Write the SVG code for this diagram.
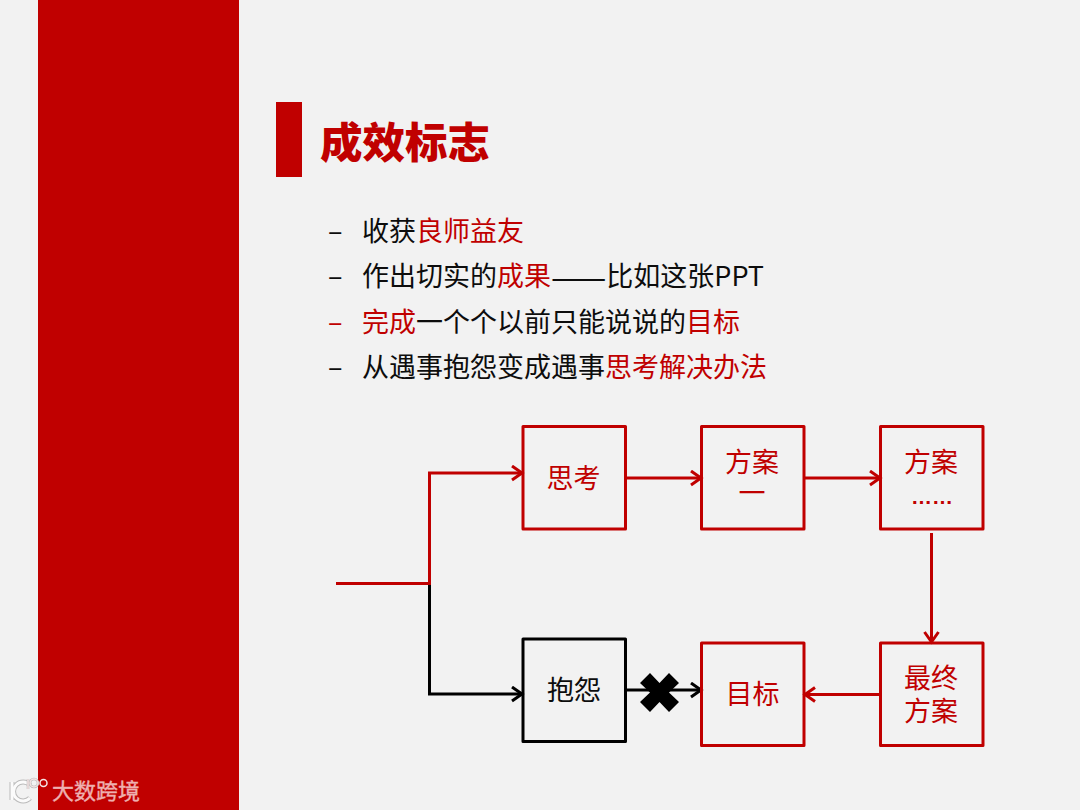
<svg xmlns="http://www.w3.org/2000/svg" width="1080" height="810" viewBox="0 0 1080 810">
<style>
text{font-family:"Noto Sans CJK SC","Liberation Sans",sans-serif}
.b{font-size:27px;fill:#0d0d0d}
.r{fill:#c00000}
.box{fill:none;stroke-width:3;stroke-linejoin:round}
.cr{stroke:#c00000}.ck{stroke:#000}
.l{fill:none;stroke-width:3}
.n{font-size:27px;text-anchor:middle}
</style>
<defs>
<marker id="ar" markerUnits="userSpaceOnUse" markerWidth="16" markerHeight="18" refX="13" refY="8" orient="auto"><path d="M3 1L13 8L3 15" fill="none" stroke="#c00000" stroke-width="3"/></marker>
<marker id="ak" markerUnits="userSpaceOnUse" markerWidth="16" markerHeight="18" refX="13" refY="8" orient="auto"><path d="M3 1L13 8L3 15" fill="none" stroke="#000" stroke-width="3"/></marker>
</defs>
<rect width="1080" height="810" fill="#f2f2f2"/>
<rect x="38" y="0" width="201" height="810" fill="#c00000"/>
<rect x="276" y="102" width="26" height="75" fill="#c00000"/>
<text x="320" y="158" font-size="42.500" font-weight="900" fill="#c00000">成效标志</text>
<g id="bullets">
<text x="328" y="241" class="b">–</text>
<text x="362" y="241" class="b">收获<tspan class="r">良师益友</tspan></text>
<text x="328" y="286" class="b">–</text>
<text x="362" y="286" class="b">作出切实的<tspan class="r">成果</tspan><tspan font-size="33" dy="3">——</tspan><tspan dy="-3">比如这张PPT</tspan></text>
<text x="328" y="332" class="b r">–</text>
<text x="362" y="332" class="b"><tspan class="r">完成</tspan>一个个以前只能说说的<tspan class="r">目标</tspan></text>
<text x="328" y="377" class="b">–</text>
<text x="362" y="377" class="b">从遇事抱怨变成遇事<tspan class="r">思考解决办法</tspan></text>
</g>
<g id="connectors">
<path class="l ck" d="M429.500 583V694H522" marker-end="url(#ak)"/>
<path class="l cr" d="M336 583.500H429.500V473H522" marker-end="url(#ar)"/>
<path class="l cr" d="M626 478H701" marker-end="url(#ar)"/>
<path class="l cr" d="M805 478H880" marker-end="url(#ar)"/>
<path class="l cr" d="M931.500 533V642" marker-end="url(#ar)"/>
<path class="l cr" d="M880 694.500H805" marker-end="url(#ar)"/>
<path class="l ck" d="M626 690H701" marker-end="url(#ak)"/>
</g>
<g id="cross"><path d="M640 683L650 673L659.500 683L669 673L679 683L669 692.500L679 702L669 712L659.500 702L650 712L640 702L650 692.500Z" fill="#000"/></g>
<g id="n1"><rect x="523" y="426.500" width="102.500" height="102.500" class="box cr"/><text x="573.500" y="488" class="n r">思考</text></g>
<g id="n2"><rect x="701.500" y="426.500" width="102.500" height="102.500" class="box cr"/><text class="n r"><tspan x="752" y="472">方案</tspan><tspan x="752" y="503">一</tspan></text></g>
<g id="n3"><rect x="880.500" y="426.500" width="102.500" height="102.500" class="box cr"/><text class="n r"><tspan x="931" y="472">方案</tspan><tspan x="932" y="504" font-family="Liberation Sans" font-size="21" font-weight="700">……</tspan></text></g>
<g id="n4"><rect x="880.500" y="643" width="102.500" height="102.500" class="box cr"/><text class="n r"><tspan x="931" y="688">最终</tspan><tspan x="931" y="721">方案</tspan></text></g>
<g id="n5"><rect x="701.500" y="643" width="102.500" height="102.500" class="box cr"/><text x="752.500" y="704" class="n r">目标</text></g>
<g id="n6"><rect x="523" y="639" width="102.500" height="102.500" class="box ck"/><text x="574" y="700" class="n" fill="#0d0d0d">抱怨</text></g>
<g id="watermark">
<g fill="none" stroke="#a8a8a8" stroke-width="5" opacity="0.75">
<path d="M12 782V800"/>
<path d="M30 785A9.500 9.500 0 1 0 30 798"/>
</g>
<g fill="none" stroke="#fbfbfb">
<path d="M12 782V800" stroke-width="3"/>
<path d="M30 785A9.500 9.500 0 1 0 30 798" stroke-width="3"/>
</g>
<g fill="none" stroke="#b5b5b5" stroke-width="2.500">
<path d="M28 779V789"/>
<circle cx="34" cy="783" r="4"/>
</g>
<g fill="none" stroke="#f4e4e4" stroke-width="1.500">
<path d="M28 779V789"/>
<circle cx="34" cy="783" r="4"/>
<circle cx="43.500" cy="783" r="3.500"/>
</g>
<text x="52" y="799" font-size="22" fill="#eeb0b0" stroke="#eeb0b0" stroke-width="0.400">大数跨境</text>
</g>
</svg>
